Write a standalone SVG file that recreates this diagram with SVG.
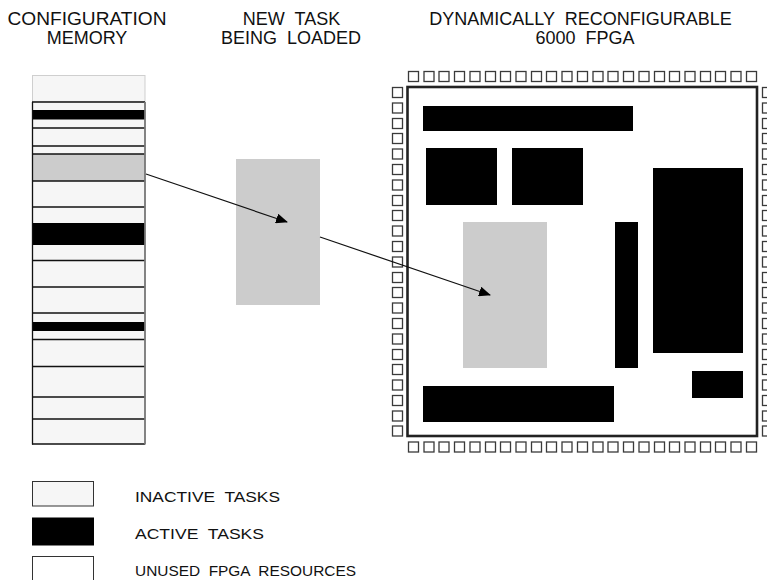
<svg xmlns="http://www.w3.org/2000/svg" width="767" height="580" viewBox="0 0 767 580">
<style>
text{font-family:"Liberation Sans",Arial,sans-serif;fill:#111;white-space:pre}
.h{font-size:18px;text-anchor:middle}
.lg{font-size:15px}
.blk{fill:#000}
.gry{fill:#cccccc}
.inact{fill:#f6f6f6}
.sep{stroke:#111;stroke-width:1.3}
.pad{fill:#fff;stroke:#3a3a3a;stroke-width:1.3}
.con{stroke:#111;stroke-width:1.2;fill:none;marker-end:url(#ah)}
</style>
<defs>
<rect id="p" class="pad" width="10" height="10"/>
<marker id="ah" markerWidth="12" markerHeight="10" refX="11" refY="5" orient="auto" markerUnits="userSpaceOnUse">
<path d="M0,0 L12,5 L0,10 z" fill="#000"/>
</marker>
</defs>
<rect width="767" height="580" fill="#fff"/>

<g id="headers">
<text class="h" x="87" y="25" textLength="159" lengthAdjust="spacingAndGlyphs" xml:space="preserve">CONFIGURATION</text>
<text class="h" x="87" y="44" xml:space="preserve">MEMORY</text>
<text class="h" x="291.5" y="25" xml:space="preserve">NEW  TASK</text>
<text class="h" x="291" y="44" xml:space="preserve">BEING  LOADED</text>
<text class="h" x="580.5" y="25" xml:space="preserve">DYNAMICALLY  RECONFIGURABLE</text>
<text class="h" x="585" y="44" xml:space="preserve">6000  FPGA</text>
</g>

<g id="config-memory">
<rect x="32.5" y="75.5" width="112.5" height="26.5" class="inact" stroke="#cfcfcf" stroke-width="1"/>
<rect x="32.5" y="102" width="112.5" height="342" class="inact"/>
<rect x="32.5" y="110" width="112.5" height="9.5" class="blk"/>
<rect x="32.5" y="154" width="112.5" height="27" class="gry"/>
<rect x="32.5" y="223" width="112.5" height="22" class="blk"/>
<rect x="32.5" y="322" width="112.5" height="9" class="blk"/>
<g class="sep">
<line x1="32" y1="102" x2="145" y2="102"/>
<line x1="32" y1="128" x2="145" y2="128"/>
<line x1="32" y1="146" x2="145" y2="146"/>
<line x1="32" y1="154" x2="145" y2="154"/>
<line x1="32" y1="181" x2="145" y2="181"/>
<line x1="32" y1="207" x2="145" y2="207"/>
<line x1="32" y1="260.5" x2="145" y2="260.5"/>
<line x1="32" y1="287" x2="145" y2="287"/>
<line x1="32" y1="313" x2="145" y2="313"/>
<line x1="32" y1="339.5" x2="145" y2="339.5"/>
<line x1="32" y1="366.5" x2="145" y2="366.5"/>
<line x1="32" y1="397" x2="145" y2="397"/>
<line x1="32" y1="419" x2="145" y2="419"/>
<line x1="32" y1="444" x2="145" y2="444"/>
</g>
<line x1="32.5" y1="102" x2="32.5" y2="444.5" stroke="#111" stroke-width="1.3"/>
<line x1="145" y1="102" x2="145" y2="444.5" stroke="#777" stroke-width="1.8"/>
</g>

<g id="new-task">
<rect x="236" y="159" width="84" height="146" class="gry"/>
</g>

<g id="fpga">
<rect x="407.5" y="87" width="349.5" height="349" fill="#fff" stroke="#222" stroke-width="2.6"/>
<g id="pads-top">
<use href="#p" x="408.5" y="71.5"/><use href="#p" x="424" y="71.5"/><use href="#p" x="439" y="71.5"/><use href="#p" x="454.5" y="71.5"/><use href="#p" x="470" y="71.5"/><use href="#p" x="485.5" y="71.5"/><use href="#p" x="500.5" y="71.5"/><use href="#p" x="516" y="71.5"/><use href="#p" x="531.5" y="71.5"/><use href="#p" x="546.5" y="71.5"/><use href="#p" x="562" y="71.5"/><use href="#p" x="577.5" y="71.5"/><use href="#p" x="593" y="71.5"/><use href="#p" x="608" y="71.5"/><use href="#p" x="623.5" y="71.5"/><use href="#p" x="639" y="71.5"/><use href="#p" x="654.5" y="71.5"/><use href="#p" x="669.5" y="71.5"/><use href="#p" x="685" y="71.5"/><use href="#p" x="700.5" y="71.5"/><use href="#p" x="715.5" y="71.5"/><use href="#p" x="731" y="71.5"/><use href="#p" x="746.5" y="71.5"/>
</g>
<g id="pads-bottom">
<use href="#p" x="408.5" y="442"/><use href="#p" x="424" y="442"/><use href="#p" x="439" y="442"/><use href="#p" x="454.5" y="442"/><use href="#p" x="470" y="442"/><use href="#p" x="485.5" y="442"/><use href="#p" x="500.5" y="442"/><use href="#p" x="516" y="442"/><use href="#p" x="531.5" y="442"/><use href="#p" x="546.5" y="442"/><use href="#p" x="562" y="442"/><use href="#p" x="577.5" y="442"/><use href="#p" x="593" y="442"/><use href="#p" x="608" y="442"/><use href="#p" x="623.5" y="442"/><use href="#p" x="639" y="442"/><use href="#p" x="654.5" y="442"/><use href="#p" x="669.5" y="442"/><use href="#p" x="685" y="442"/><use href="#p" x="700.5" y="442"/><use href="#p" x="715.5" y="442"/><use href="#p" x="731" y="442"/><use href="#p" x="746.5" y="442"/>
</g>
<g id="pads-left">
<use href="#p" x="392.5" y="87.5"/><use href="#p" x="392.5" y="103"/><use href="#p" x="392.5" y="118.5"/><use href="#p" x="392.5" y="133.5"/><use href="#p" x="392.5" y="149"/><use href="#p" x="392.5" y="164.5"/><use href="#p" x="392.5" y="180"/><use href="#p" x="392.5" y="195.5"/><use href="#p" x="392.5" y="210.5"/><use href="#p" x="392.5" y="226"/><use href="#p" x="392.5" y="241.5"/><use href="#p" x="392.5" y="257"/><use href="#p" x="392.5" y="272.5"/><use href="#p" x="392.5" y="287.5"/><use href="#p" x="392.5" y="303"/><use href="#p" x="392.5" y="318.5"/><use href="#p" x="392.5" y="334"/><use href="#p" x="392.5" y="349.5"/><use href="#p" x="392.5" y="364.5"/><use href="#p" x="392.5" y="380"/><use href="#p" x="392.5" y="395.5"/><use href="#p" x="392.5" y="411"/><use href="#p" x="392.5" y="426"/>
</g>
<g id="pads-right">
<use href="#p" x="762.5" y="87.5"/><use href="#p" x="762.5" y="103"/><use href="#p" x="762.5" y="118.5"/><use href="#p" x="762.5" y="133.5"/><use href="#p" x="762.5" y="149"/><use href="#p" x="762.5" y="164.5"/><use href="#p" x="762.5" y="180"/><use href="#p" x="762.5" y="195.5"/><use href="#p" x="762.5" y="210.5"/><use href="#p" x="762.5" y="226"/><use href="#p" x="762.5" y="241.5"/><use href="#p" x="762.5" y="257"/><use href="#p" x="762.5" y="272.5"/><use href="#p" x="762.5" y="287.5"/><use href="#p" x="762.5" y="303"/><use href="#p" x="762.5" y="318.5"/><use href="#p" x="762.5" y="334"/><use href="#p" x="762.5" y="349.5"/><use href="#p" x="762.5" y="364.5"/><use href="#p" x="762.5" y="380"/><use href="#p" x="762.5" y="395.5"/><use href="#p" x="762.5" y="411"/><use href="#p" x="762.5" y="426"/>
</g>
<g id="fpga-tasks">
<rect class="blk" x="423" y="106" width="210" height="25"/>
<rect class="blk" x="426" y="148" width="71" height="57"/>
<rect class="blk" x="512" y="148" width="71" height="57"/>
<rect class="blk" x="653" y="168" width="90" height="185"/>
<rect class="blk" x="615" y="222" width="23" height="146"/>
<rect class="gry" x="463" y="222" width="84" height="146"/>
<rect class="blk" x="692" y="371" width="51" height="27"/>
<rect class="blk" x="423" y="386" width="191" height="36"/>
</g>
</g>

<g id="connectors">
<line class="con" x1="146" y1="174" x2="287" y2="222"/>
<line class="con" x1="320" y1="237" x2="490" y2="295"/>
</g>

<g id="legend">
<rect x="32.5" y="481.5" width="61" height="24.5" class="inact" stroke="#333" stroke-width="1"/>
<rect x="32" y="517.5" width="62" height="28" class="blk"/>
<rect x="32.5" y="556.5" width="61" height="26" fill="#fff" stroke="#333" stroke-width="1"/>
<text class="lg" x="135" y="502" textLength="145" lengthAdjust="spacingAndGlyphs" xml:space="preserve">INACTIVE  TASKS</text>
<text class="lg" x="135" y="539" textLength="129" lengthAdjust="spacingAndGlyphs" xml:space="preserve">ACTIVE  TASKS</text>
<text class="lg" x="135" y="576" textLength="221" lengthAdjust="spacingAndGlyphs" xml:space="preserve">UNUSED  FPGA  RESOURCES</text>
</g>
</svg>
